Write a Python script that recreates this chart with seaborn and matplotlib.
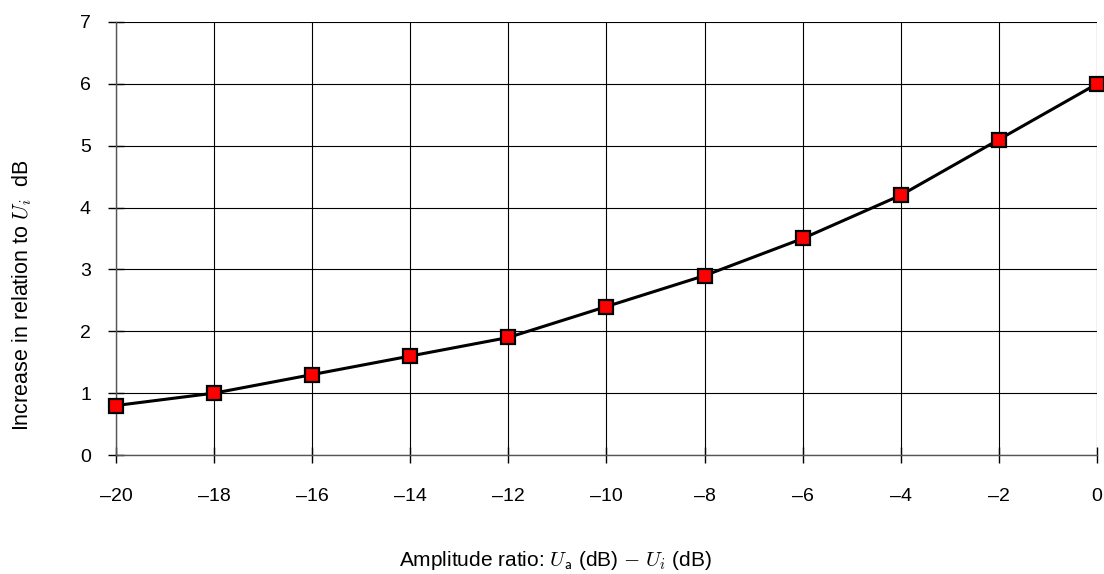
import matplotlib
matplotlib.use("Agg")
import matplotlib.pyplot as plt
import seaborn as sns
import pandas as pd

# values
amplitude_ratio = [-20, -18, -16, -14, -12, -10, -8, -6, -4, -2, 0]
increase_db = [0.8, 1.0, 1.3, 1.6, 1.9, 2.4, 2.9, 3.5, 4.2, 5.1, 6.0]
x_ticks = list(range(-20, 1, 2))
y_ticks = list(range(0, 8))

df = pd.DataFrame({"ratio": amplitude_ratio, "increase": increase_db})

sns.set_style("white", {"xtick.bottom": True, "ytick.left": True,
                        "text.color": "black", "axes.labelcolor": "black",
                        "xtick.color": "black", "ytick.color": "black"})
plt.rcParams["font.family"] = ["Liberation Sans", "DejaVu Sans"]
plt.rcParams["mathtext.fontset"] = "cm"

fig = plt.figure(figsize=(11.04, 5.74), dpi=100)
ax = fig.add_axes([0.105, 0.2073, 0.8887, 0.7544])

sns.lineplot(data=df, x="ratio", y="increase", ax=ax, color="black",
             linewidth=2.2, marker="s", markersize=10,
             markerfacecolor="#ff0000", markeredgecolor="black",
             markeredgewidth=1.6, zorder=3, clip_on=False)

ax.set_xlim(-20, 0)
ax.set_ylim(0, 7)
ax.set_xticks(x_ticks)
ax.set_yticks(y_ticks)
ax.set_xticklabels([f"\u2013{abs(v)}" if v < 0 else str(v) for v in x_ticks])
ax.grid(True, color="black", linewidth=0.8)
ax.set_axisbelow(True)

for side in ["top", "right"]:
    ax.spines[side].set_visible(False)
for side in ["left", "bottom"]:
    ax.spines[side].set_color("#555555")
    ax.spines[side].set_linewidth(1.0)

ax.tick_params(axis="both", direction="inout", length=12, width=1.0,
               colors="black", labelsize=14)
ax.tick_params(axis="x", pad=18)
ax.tick_params(axis="y", pad=12)

ax.set_xlabel(r"Amplitude ratio: $U_{\mathsf{a}}$ (dB) $-$ $U_i$ (dB)",
              fontsize=15)
ax.set_ylabel(r"Increase in relation to $U_i$  dB", fontsize=15.5)
ax.xaxis.set_label_coords(0.4475, -0.218)
ax.yaxis.set_label_coords(-0.083, 0.37)

fig.savefig("out.png", dpi=100)
